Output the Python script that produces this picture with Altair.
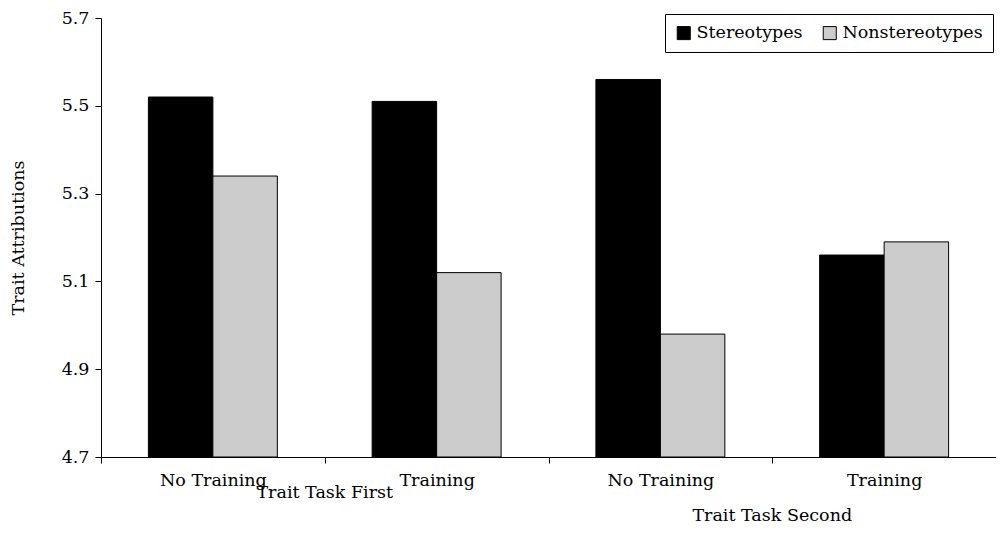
import altair as alt
import pandas as pd

conditions = ["Trait Task First|No Training", "Trait Task First|Training",
              "Trait Task Second|No Training", "Trait Task Second|Training"]
series = ["Stereotypes", "Nonstereotypes"]
stereotypes = [5.52, 5.51, 5.56, 5.16]
nonstereotypes = [5.34, 5.12, 4.98, 5.19]
y_ticks = [4.7, 4.9, 5.1, 5.3, 5.5, 5.7]
super_groups = ["Trait Task First", "Trait Task Second"]
super_anchor = ["Trait Task First|Training", "Trait Task Second|Training"]

rows = []
for c, s, n in zip(conditions, stereotypes, nonstereotypes):
    rows.append({"cond": c, "series": "Stereotypes", "value": s})
    rows.append({"cond": c, "series": "Nonstereotypes", "value": n})
df = pd.DataFrame(rows)
sup = pd.DataFrame({"cond": super_anchor, "label": super_groups, "row": [0, 1]})

FONT = "DejaVu Serif"
FS = 17.5

xscale = alt.Scale(domain=conditions, paddingInner=0, paddingOuter=0)

bars = alt.Chart(df).mark_bar(stroke="black", strokeWidth=1).encode(
    x=alt.X("cond:N", scale=xscale, sort=conditions,
            axis=alt.Axis(title=None, labelExpr="split(datum.label, '|')[1]",
                          tickBand="extent", labelAngle=0, tickSize=6,
                          labelPadding=8, domainColor="black", tickColor="black",
                          labelColor="black", labelFont=FONT, labelFontSize=FS)),
    xOffset=alt.XOffset("series:N", sort=series,
                        scale=alt.Scale(domain=series, paddingInner=0, paddingOuter=0.735)),
    y=alt.Y("value:Q", scale=alt.Scale(domain=[4.7, 5.7], nice=False, zero=False),
            axis=alt.Axis(title="Trait Attributions", values=y_ticks, format=".1f",
                          grid=False, tickSize=6, labelPadding=6,
                          domainColor="black", tickColor="black", labelColor="black",
                          labelFont=FONT, labelFontSize=FS, titleFont=FONT,
                          titleFontSize=FS, titleFontWeight="normal", titleColor="black",
                          titlePadding=34)),
    y2=alt.datum(4.7),
    color=alt.Color("series:N", sort=series,
                    scale=alt.Scale(domain=series, range=["#000000", "#cccccc"]),
                    legend=alt.Legend(title=None, orient="none", legendX=564, legendY=-4,
                                      direction="horizontal", symbolType="square",
                                      symbolSize=170, symbolStrokeColor="black",
                                      symbolStrokeWidth=1, labelFont=FONT,
                                      labelFontSize=FS, labelColor="black",
                                      strokeColor="black", padding=10,
                                      columnPadding=18, labelOffset=4)),
)

sup1 = alt.Chart(sup[sup.row == 0]).mark_text(font=FONT, fontSize=FS, color="black",
                                              baseline="alphabetic", align="center").encode(
    x=alt.X("cond:N", scale=xscale, sort=conditions, bandPosition=0),
    y=alt.value(480), text="label:N")
sup2 = alt.Chart(sup[sup.row == 1]).mark_text(font=FONT, fontSize=FS, color="black",
                                              baseline="alphabetic", align="center").encode(
    x=alt.X("cond:N", scale=xscale, sort=conditions, bandPosition=0),
    y=alt.value(503), text="label:N")

chart = alt.layer(bars, sup1, sup2).properties(
    width=895, height=439, autosize="none",
    padding={"left": 93, "top": 10, "right": 0, "bottom": 68},
).configure_view(stroke=None).configure_axis(domainWidth=1, tickWidth=1)

chart.save("out.html", embed_options={"renderer": "svg", "actions": False})
